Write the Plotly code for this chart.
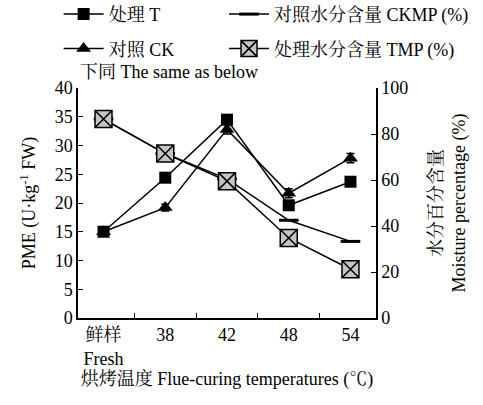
import plotly.graph_objects as go

categories = ["鲜样<br>Fresh", "38", "42", "48", "54"]
pme_T = [15.0, 24.4, 34.5, 19.6, 23.7]
pme_CK = [15.0, 19.2, 32.8, 21.7, 27.8]
err_T = [0.6, 0.6, 0.8, 0.8, 0.6]
err_CK = [0.6, 0.6, 0.8, 0.8, 0.8]
moist_CKMP = [86.5, 71.5, 60.5, 42.5, 33.3]
moist_TMP = [86.5, 71.5, 59.5, 34.8, 21.2]

FONT = "Liberation Serif, Times New Roman, Noto Serif CJK SC, Noto Sans CJK SC, serif"
FS = 18

fig = go.Figure()
fig.add_trace(go.Scatter(
    x=categories, y=moist_CKMP, name="对照水分含量 CKMP (%)", yaxis="y2",
    mode="lines+markers", line=dict(color="black", width=1.5),
    marker=dict(symbol="line-ew", size=14, line=dict(color="black", width=3)),
    legend="legend3"))
fig.add_trace(go.Scatter(
    x=categories, y=moist_TMP, name="处理水分含量 TMP (%)", yaxis="y2",
    mode="lines+markers", line=dict(color="black", width=1.5),
    marker=dict(symbol="square-x", size=17, color="#c4c4c4",
                line=dict(color="black", width=1.5)),
    legend="legend4"))
fig.add_trace(go.Scatter(
    x=categories, y=pme_CK, name="对照 CK",
    mode="lines+markers", line=dict(color="black", width=1.5),
    marker=dict(symbol="triangle-up", size=13, color="black"),
    error_y=dict(type="data", array=err_CK, color="black", thickness=1.5, width=4),
    legend="legend2"))
fig.add_trace(go.Scatter(
    x=categories, y=pme_T, name="处理 T",
    mode="lines+markers", line=dict(color="black", width=1.5),
    marker=dict(symbol="square", size=12, color="black"),
    error_y=dict(type="data", array=err_T, color="black", thickness=1.5, width=4),
    legend="legend"))

leg_common = dict(font=dict(family=FONT, size=FS, color="black"),
                  bgcolor="rgba(0,0,0,0)", xanchor="left", yanchor="middle",
                  itemwidth=40)
fig.update_layout(
    width=483, height=405,
    margin=dict(l=78, r=107, t=88, b=87, autoexpand=False),
    paper_bgcolor="white", plot_bgcolor="white",
    font=dict(family=FONT, size=FS, color="black"),
    showlegend=True,
    legend=dict(x=-0.065, y=1.32, **leg_common),
    legend2=dict(x=-0.065, y=1.17, **leg_common),
    legend3=dict(x=0.49, y=1.32, **leg_common),
    legend4=dict(x=0.49, y=1.17, **leg_common),
    xaxis=dict(
        type="category", showline=True, linecolor="black", linewidth=1.5,
        ticks="inside", tickson="boundaries", ticklen=5, tickcolor="black",
        tickfont=dict(family=FONT, size=FS),
        title=dict(text="烘烤温度 Flue-curing temperatures (℃)",
                   font=dict(family=FONT, size=FS), standoff=4),
        showgrid=False, zeroline=False),
    yaxis=dict(
        range=[0, 40], dtick=5, showline=True, linecolor="black", linewidth=1.5,
        ticks="inside", ticklen=5, tickcolor="black",
        tickfont=dict(family=FONT, size=FS),
        title=dict(text="PME (U·kg<sup>-1</sup> FW)", font=dict(family=FONT, size=FS),
                   standoff=14),
        showgrid=False, zeroline=False),
    yaxis2=dict(
        range=[0, 100], dtick=20, overlaying="y", side="right",
        showline=True, linecolor="black", linewidth=1.5,
        ticks="inside", ticklen=5, tickcolor="black",
        tickfont=dict(family=FONT, size=FS),
        title=dict(text="水分百分含量<br>Moisture percentage (%)",
                   font=dict(family=FONT, size=FS), standoff=22),
        showgrid=False, zeroline=False),
    annotations=[dict(text="下同 The same as below", xref="paper", yref="paper",
                      x=0.0, y=1.07, xanchor="left", yanchor="middle",
                      showarrow=False, font=dict(family=FONT, size=FS))],
)

fig.write_html("out.html", config={"displayModeBar": False},
               post_script="document.body.style.margin='0';document.body.style.padding='0';")
